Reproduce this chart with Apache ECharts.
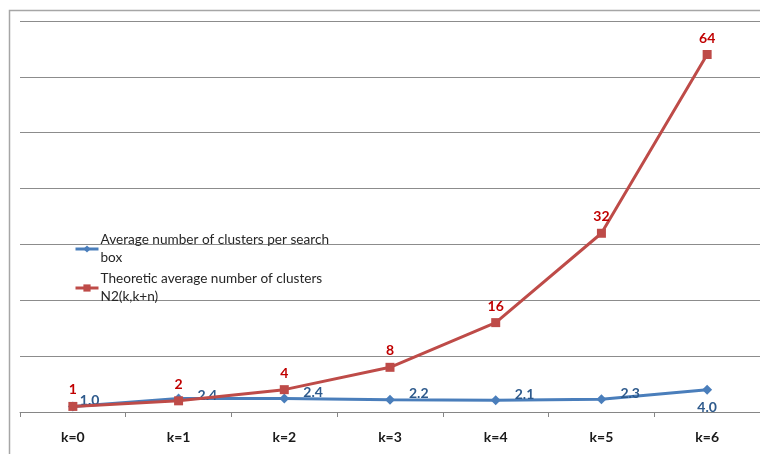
<!DOCTYPE html>
<html>
<head>
<meta charset="utf-8">
<script src="https://cdn.jsdelivr.net/npm/echarts@6/dist/echarts.min.js"></script>
<style>
  html, body { margin: 0; padding: 0; background: #fff; }
  #chart { width: 760px; height: 454px; }
</style>
</head>
<body>
<div id="chart"></div>
<script>
// Categories along the x axis
const categories = ['k=0', 'k=1', 'k=2', 'k=3', 'k=4', 'k=5', 'k=6'];
// Measured average number of clusters per search box
const avgClusters = [1.0, 2.4, 2.4, 2.2, 2.1, 2.3, 4.0];
// Theoretic average N2(k,k+n)
const theoreticClusters = [1, 2, 4, 8, 16, 32, 64];

const seriesNames = [
  'Average number of clusters per search\nbox',
  'Theoretic average number of clusters\nN2(k,k+n)'
];

const FONT = 'Lato, "Open Sans", sans-serif';

// Blue labels sit to the right of each point, the last one below it
const blueData = avgClusters.map((v, i) => {
  const item = { value: v };
  if (i === avgClusters.length - 1) {
    item.label = { position: 'bottom', distance: 6, offset: [0, 0] };
  } else if (i === 0) {
    item.label = { offset: [-12, -6] };
  } else if (i === 1) {
    item.label = { offset: [0, -3] };
  }
  return item;
});

const chart = echarts.init(document.getElementById('chart'), null, { renderer: 'canvas' });

chart.setOption({
  animation: false,
  backgroundColor: '#ffffff',
  textStyle: { fontFamily: FONT },
  graphic: [{
    type: 'rect',
    shape: { x: 9.5, y: 10.5, width: 800, height: 500 },
    style: { fill: 'none', stroke: '#a6a6a6', lineWidth: 1.5 },
    silent: true,
    z: -1
  }],
  grid: { left: 20, right: 0, top: 21, bottom: 42, containLabel: false },
  legend: {
    orient: 'vertical',
    left: 69,
    top: 227,
    padding: [4, 5],
    itemWidth: 23,
    itemHeight: 9,
    itemGap: 3,
    data: [
      { name: seriesNames[0], lineStyle: { width: 3 } },
      { name: seriesNames[1], lineStyle: { width: 3 } }
    ],
    textStyle: { fontFamily: FONT, fontSize: 13.6, color: '#262626', lineHeight: 18, padding: [0, 0, 0, -3] }
  },
  xAxis: {
    type: 'category',
    data: categories,
    boundaryGap: true,
    axisLine: { lineStyle: { color: '#868686', width: 1 } },
    axisTick: { show: true, length: 5, alignWithLabel: false, lineStyle: { color: '#868686' } },
    axisLabel: { fontFamily: FONT, fontSize: 14, fontWeight: 'bold', color: '#1a1a1a', margin: 18 }
  },
  yAxis: {
    type: 'value',
    min: 0,
    max: 70,
    interval: 10,
    axisLine: { show: false },
    axisTick: { show: false },
    axisLabel: { show: false },
    splitLine: { lineStyle: { color: '#8c8c8c', width: 1.2 } }
  },
  series: [
    {
      name: seriesNames[0],
      type: 'line',
      data: blueData,
      symbol: 'diamond',
      symbolSize: 10,
      lineStyle: { color: '#4a7ebb', width: 3 },
      itemStyle: { color: '#4a7ebb' },
      label: {
        show: true,
        position: 'right',
        distance: 14,
        offset: [0, -6],
        formatter: p => p.value.toFixed(1),
        fontFamily: FONT,
        fontSize: 14,
        fontWeight: 'bold',
        color: '#2e5a8c'
      },
      z: 2
    },
    {
      name: seriesNames[1],
      type: 'line',
      data: theoreticClusters,
      symbol: 'rect',
      symbolSize: 9,
      lineStyle: { color: '#be4b48', width: 3 },
      itemStyle: { color: '#be4b48' },
      label: {
        show: true,
        position: 'top',
        distance: 5,
        fontFamily: FONT,
        fontSize: 14,
        fontWeight: 'bold',
        color: '#c00000'
      },
      z: 3
    }
  ]
});
</script>
</body>
</html>
